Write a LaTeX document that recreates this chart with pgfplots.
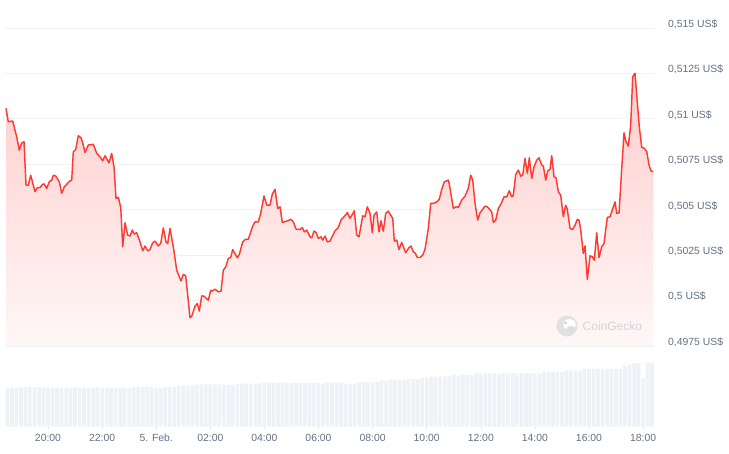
\documentclass[border=0pt]{standalone}
\usepackage{pgfplots}
\pgfplotsset{compat=1.18}
\usepackage{pgfplotstable}
\usepackage{fontspec}
\setmainfont{Liberation Sans}
\definecolor{cgred}{RGB}{255,58,51}
\definecolor{labelc}{RGB}{100,112,132}
\definecolor{gridc}{RGB}{240,241,243}
\definecolor{volc}{RGB}{238,241,246}
\definecolor{filltop}{RGB}{255,205,203}
\definecolor{fillbot}{RGB}{255,247,247}
\definecolor{wm}{RGB}{212,212,212}

\pgfplotstableread{
h v
18.447 0.51058
18.532 0.50984
18.695 0.50988
18.843 0.50901
18.939 0.50828
19.028 0.50868
19.113 0.50874
19.187 0.50635
19.272 0.50635
19.360 0.50690
19.519 0.50599
19.604 0.50621
19.704 0.50621
19.804 0.50641
19.863 0.50641
19.952 0.50617
20.048 0.50654
20.137 0.50663
20.196 0.50690
20.285 0.50685
20.418 0.50654
20.506 0.50590
20.603 0.50626
20.813 0.50659
20.876 0.50663
20.935 0.50819
21.024 0.50832
21.120 0.50907
21.220 0.50896
21.283 0.50868
21.368 0.50815
21.490 0.50856
21.675 0.50860
21.800 0.50810
21.922 0.50791
22.022 0.50769
22.107 0.50797
22.255 0.50758
22.355 0.50810
22.440 0.50736
22.514 0.50562
22.599 0.50568
22.688 0.50513
22.762 0.50296
22.847 0.50428
22.946 0.50360
23.032 0.50355
23.117 0.50388
23.190 0.50366
23.279 0.50373
23.401 0.50323
23.501 0.50274
23.586 0.50300
23.686 0.50274
23.771 0.50281
23.871 0.50318
23.956 0.50327
24.078 0.50301
24.166 0.50314
24.263 0.50400
24.362 0.50323
24.425 0.50314
24.510 0.50397
24.632 0.50296
24.758 0.50167
24.917 0.50108
25.002 0.50144
25.091 0.50136
25.250 0.49905
25.313 0.49914
25.435 0.49969
25.520 0.49984
25.594 0.49942
25.682 0.50026
25.767 0.50024
25.926 0.50002
26.015 0.50057
26.074 0.50052
26.174 0.50063
26.296 0.50048
26.396 0.50052
26.481 0.50167
26.570 0.50185
26.666 0.50232
26.754 0.50237
26.828 0.50281
26.998 0.50235
27.072 0.50254
27.198 0.50323
27.283 0.50336
27.405 0.50338
27.568 0.50410
27.653 0.50433
27.775 0.50433
27.864 0.50480
27.986 0.50576
28.085 0.50525
28.207 0.50525
28.292 0.50586
28.392 0.50612
28.492 0.50507
28.577 0.50516
28.662 0.50430
28.825 0.50437
28.973 0.50447
29.069 0.50433
29.169 0.50393
29.316 0.50391
29.401 0.50402
29.475 0.50378
29.564 0.50388
29.686 0.50351
29.749 0.50345
29.834 0.50382
29.908 0.50375
29.993 0.50342
30.093 0.50351
30.156 0.50333
30.241 0.50355
30.326 0.50323
30.426 0.50327
30.610 0.50384
30.732 0.50402
30.832 0.50443
31.017 0.50474
31.065 0.50485
31.165 0.50452
31.324 0.50494
31.413 0.50360
31.498 0.50351
31.634 0.50466
31.719 0.50461
31.804 0.50516
31.904 0.50480
31.989 0.50373
32.052 0.50470
32.152 0.50488
32.237 0.50378
32.311 0.50439
32.396 0.50382
32.485 0.50480
32.581 0.50492
32.670 0.50470
32.744 0.50452
32.803 0.50327
32.892 0.50333
32.976 0.50281
33.076 0.50320
33.224 0.50263
33.346 0.50292
33.420 0.50300
33.505 0.50268
33.568 0.50263
33.653 0.50237
33.753 0.50237
33.853 0.50250
33.938 0.50283
34.060 0.50397
34.148 0.50535
34.245 0.50535
34.370 0.50543
34.466 0.50558
34.555 0.50612
34.651 0.50654
34.799 0.50663
34.836 0.50641
34.984 0.50507
35.084 0.50516
35.169 0.50513
35.294 0.50553
35.416 0.50575
35.538 0.50617
35.627 0.50690
35.701 0.50663
35.786 0.50535
35.886 0.50443
35.971 0.50483
36.156 0.50520
36.241 0.50516
36.404 0.50488
36.463 0.50430
36.551 0.50443
36.648 0.50507
36.747 0.50531
36.858 0.50571
36.958 0.50571
37.054 0.50604
37.143 0.50571
37.202 0.50580
37.291 0.50694
37.387 0.50718
37.475 0.50685
37.549 0.50690
37.634 0.50782
37.719 0.50700
37.793 0.50786
37.882 0.50672
37.967 0.50736
38.067 0.50773
38.152 0.50786
38.252 0.50746
38.311 0.50740
38.400 0.50663
38.474 0.50714
38.559 0.50722
38.622 0.50797
38.707 0.50681
38.781 0.50676
38.866 0.50599
38.954 0.50580
39.051 0.50461
39.139 0.50525
39.198 0.50502
39.298 0.50397
39.398 0.50391
39.483 0.50415
39.568 0.50447
39.631 0.50443
39.694 0.50388
39.790 0.50259
39.853 0.50301
39.938 0.50116
40.038 0.50246
40.123 0.50241
40.197 0.50222
40.285 0.50373
40.370 0.50237
40.470 0.50296
40.555 0.50314
40.677 0.50458
40.777 0.50461
40.862 0.50498
40.962 0.50543
41.025 0.50480
41.110 0.50483
41.210 0.50727
41.295 0.50923
41.369 0.50874
41.453 0.50850
41.542 0.50966
41.616 0.51232
41.701 0.51251
41.764 0.51131
41.860 0.50956
41.949 0.50843
42.045 0.50838
42.134 0.50819
42.219 0.50746
42.293 0.50713
42.378 0.50709
}\price

\pgfplotstableread{
h v
18.50 39
18.67 38.7
18.83 38.7
19.00 39.2
19.17 39.7
19.33 39.7
19.50 39.2
19.67 39.7
19.83 39
20.00 38.7
20.17 39
20.33 38.7
20.50 38.7
20.67 38.7
20.83 39
21.00 39.7
21.17 38.7
21.33 38.7
21.50 38.7
21.67 38.7
21.83 39.7
22.00 39
22.17 39
22.33 38.7
22.50 38.7
22.67 38.7
22.83 38.7
23.00 38.7
23.17 39.7
23.33 39.7
23.50 39.7
23.67 39.7
23.83 39.7
24.00 38.7
24.17 38.7
24.33 39.7
24.50 39.7
24.67 39.7
24.83 41
25.00 41
25.17 41
25.33 41.5
25.50 42.4
25.67 42.4
25.83 42.4
26.00 42.4
26.17 42.4
26.33 42.4
26.50 42.4
26.67 41.7
26.83 41.7
27.00 43
27.17 43
27.33 43
27.50 43
27.67 43
27.83 43
28.00 44.4
28.17 44.4
28.33 44.4
28.50 43.5
28.67 44.4
28.83 44
29.00 43.5
29.17 44.4
29.33 43.5
29.50 44
29.67 43.5
29.83 43.5
30.00 43.5
30.17 43
30.33 44.4
30.50 44.4
30.67 44.4
30.83 44.4
31.00 43
31.17 43
31.33 43
31.50 44.4
31.67 44.4
31.83 44.4
32.00 44.4
32.17 45
32.33 46
32.50 46
32.67 46.7
32.83 46.7
33.00 46.7
33.17 46.7
33.33 47.7
33.50 47.7
33.67 47.7
33.83 48.7
34.00 48.7
34.17 50.3
34.33 50
34.50 50.3
34.67 50.3
34.83 50.3
35.00 51.7
35.17 51
35.33 51.7
35.50 51.7
35.67 51.7
35.83 53.4
36.00 53.4
36.17 53.4
36.33 53.4
36.50 53.4
36.67 53
36.83 53.4
37.00 53.4
37.17 53.4
37.33 53.4
37.50 53.4
37.67 53.4
37.83 53.4
38.00 53.4
38.17 53.4
38.33 55
38.50 55
38.67 55
38.83 55
39.00 55
39.17 56
39.33 56
39.50 56
39.67 56
39.83 57.7
40.00 57.7
40.17 57.7
40.33 57.7
40.50 57
40.67 57.7
40.83 57.7
41.00 57.7
41.17 57.7
41.33 60.7
41.50 62
41.67 63.4
41.83 63.4
42.00 48.5
42.17 64.4
42.33 64.4
}\volume

\begin{document}
\begin{tikzpicture}[x=1pt,y=1pt]
\useasboundingbox (0,0) rectangle (729,453);
% price axis
\begin{axis}[
  at={(5pt,107pt)}, anchor=south west, scale only axis,
  width=650pt, height=318pt,
  xmin=18.41, xmax=42.44, ymin=0.4975, ymax=0.515,
  hide x axis,
  axis y line*=right, y axis line style={draw=none},
  ytick={0.4975,0.5,0.5025,0.505,0.5075,0.51,0.5125,0.515},
  yticklabels={{0,4975 US\$},{0,5 US\$},{0,5025 US\$},{0,505 US\$},{0,5075 US\$},{0,51 US\$},{0,5125 US\$},{0,515 US\$}},
  ytick style={draw=none}, major tick length=0pt,
  yticklabel style={anchor=west, inner sep=0pt, xshift=13pt, yshift=3.8pt,
    font=\fontsize{10.4}{12}\selectfont, text=labelc},
  ymajorgrids, major grid style={draw=gridc, line width=0.9pt},
]
\addplot[draw=none, top color=filltop, bottom color=fillbot]
  table[x=h,y=v] {\price} |- (axis cs:18.447,0.4975) -- cycle;
\addplot[cgred, line width=1.45pt, line join=round, mark=none]
  table[x=h,y=v] {\price};
\end{axis}
% volume axis
\begin{axis}[
  at={(5pt,26.3pt)}, anchor=south west, scale only axis,
  width=650pt, height=65pt,
  xmin=18.41, xmax=42.44, ymin=0, ymax=65,
  hide y axis,
  axis x line*=bottom, x axis line style={draw=none},
  xtick={20,22,24,26,28,30,32,34,36,38,40,42},
  xticklabels={20:00,22:00,5. Feb.,02:00,04:00,06:00,08:00,10:00,12:00,14:00,16:00,18:00},
  tick align=outside, major tick length=2.5pt,
  xtick style={draw=gridc!70!gray!60, line width=0.6pt},
  xticklabel style={anchor=north, inner sep=0pt, yshift=-4.5pt,
    font=\fontsize{10.4}{12}\selectfont, text=labelc},
]
\addplot[ybar, bar width=0.135, fill=volc, draw=none, bar shift=0pt]
  table[x=h,y=v] {\volume};
\end{axis}
% CoinGecko watermark
\fill[wm!70] (567,127) circle (10.5);
\fill[white] (569.5,128.5) ellipse (6.2 and 5.5);
\fill[wm!80] (571,124) ellipse (4.5 and 3.2);
\fill[wm] (565.5,130) circle (1.6);
\node[anchor=west, inner sep=0pt, text=wm, font=\fontsize{12}{14}\selectfont] at (582.5,127) {CoinGecko};
\end{tikzpicture}
\end{document}
